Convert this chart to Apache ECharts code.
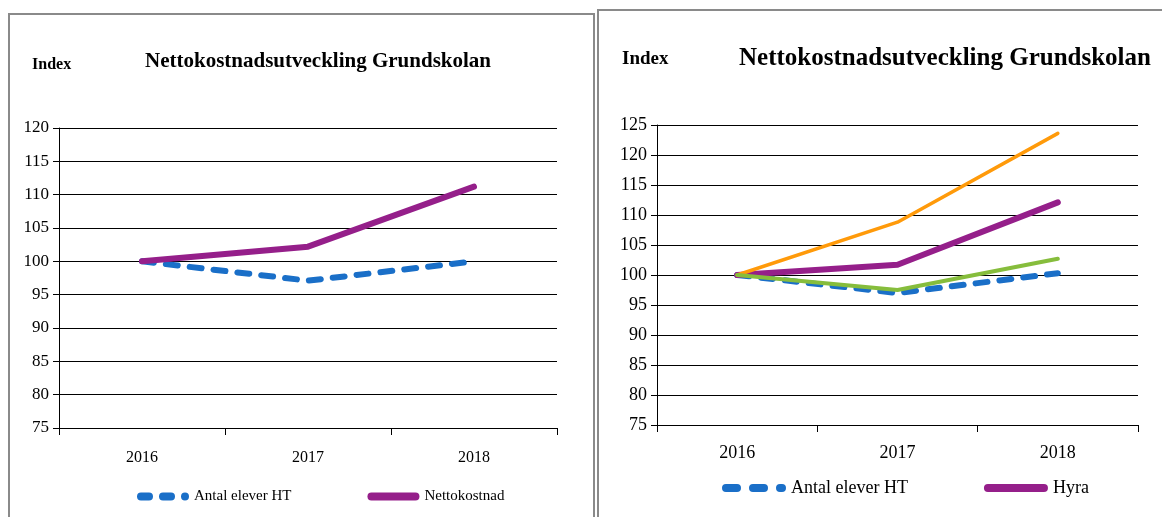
<!DOCTYPE html>
<html>
<head>
<meta charset="utf-8">
<script src="https://cdn.jsdelivr.net/npm/echarts@6/dist/echarts.min.js"></script>
<style>
  html, body { margin: 0; padding: 0; background: #fff; }
  #main { width: 1162px; height: 517px; }
</style>
</head>
<body>
<div id="main"></div>
<script>
// data
const years = ['2016', '2017', '2018']
const leftElever = [100, 97.1, 100]
const leftNetto = [100, 102.2, 111.2]
const rightElever = [100, 97.0, 100.3]
const rightHyra = [100, 101.7, 112.1]
const rightOrange = [100, 108.8, 123.6]
const rightGreen = [100, 97.5, 102.7]

const font = "'Liberation Serif', 'Times New Roman', serif"
const BLUE = '#1a6fc8'
const PURPLE = '#951f8a'
const ORANGE = '#ff9a0a'
const GREEN = '#86bd3c'

// legend icons: rounded bars (h = 8)
function pill (x0, x1) {
  return `M${x0 + 4} 0L${x1 - 4} 0A4 4 0 0 1 ${x1 - 4} 8L${x0 + 4} 8A4 4 0 0 1 ${x0 + 4} 0Z`
}
const dashIconL = 'path://' + pill(0, 16) + pill(22, 38) + pill(44, 52)
const dashIconR = 'path://' + pill(0, 19) + pill(27, 46) + pill(54, 64)
const solidIconL = 'path://' + pill(0, 52)
const solidIconR = 'path://' + pill(0, 64)

function xAxisOpt (gridIndex, fontSize, margin) {
  return {
    type: 'category',
    gridIndex,
    data: years,
    boundaryGap: true,
    axisLine: { show: true, lineStyle: { color: '#000', width: 1 } },
    axisTick: { show: true, length: 7, lineStyle: { color: '#000' } },
    axisLabel: { color: '#000', fontFamily: font, fontSize, margin },
    splitLine: { show: false }
  }
}
function yAxisOpt (gridIndex, max, fontSize) {
  return {
    type: 'value',
    gridIndex,
    min: 75,
    max,
    interval: 5,
    axisLine: { show: true, lineStyle: { color: '#000', width: 1 } },
    axisTick: { show: true, length: 6, lineStyle: { color: '#000' } },
    axisLabel: { color: '#000', fontFamily: font, fontSize, margin: 10 },
    splitLine: { show: true, lineStyle: { color: '#000', width: 1 } }
  }
}
function line (name, data, color, width, idx, dashed) {
  return {
    name,
    type: 'line',
    xAxisIndex: idx,
    yAxisIndex: idx,
    data,
    symbol: 'none',
    smooth: false,
    lineStyle: {
      color,
      width,
      type: dashed ? [12, 12] : 'solid',
      cap: 'round',
      join: 'round'
    },
    itemStyle: { color },
    emphasis: { disabled: true }
  }
}

const chart = echarts.init(document.getElementById('main'))
const option = {
  backgroundColor: '#fff',
  animation: false,
  title: [
    { text: 'Nettokostnadsutveckling Grundskolan', left: 313, top: 46, textAlign: 'center',
      textStyle: { fontFamily: font, fontWeight: 'bold', fontSize: 21, color: '#000' } },
    { text: 'Index', left: 27, top: 52,
      textStyle: { fontFamily: font, fontWeight: 'bold', fontSize: 16, color: '#000' } },
    { text: 'Nettokostnadsutveckling Grundskolan', left: 940, top: 41, textAlign: 'center',
      textStyle: { fontFamily: font, fontWeight: 'bold', fontSize: 25, color: '#000' } },
    { text: 'Index', left: 617, top: 45,
      textStyle: { fontFamily: font, fontWeight: 'bold', fontSize: 19, color: '#000' } }
  ],
  legend: [
    {
      left: 132, top: 484, itemWidth: 52, itemHeight: 8, itemGap: 76, itemTextGap: 2,
      data: [
        { name: 'Antal elever HT', icon: dashIconL },
        { name: 'Nettokostnad', icon: solidIconL }
      ],
      textStyle: { fontFamily: font, fontSize: 15, color: '#000' },
      selectedMode: false
    },
    {
      left: 717, top: 474, itemWidth: 64, itemHeight: 8, itemGap: 76, itemTextGap: 2,
      data: [
        { name: 'Antal elever HT', icon: dashIconR },
        { name: 'Hyra', icon: solidIconR }
      ],
      textStyle: { fontFamily: font, fontSize: 18, color: '#000' },
      selectedMode: false
    }
  ],
  grid: [
    { left: 59, top: 128, width: 498, height: 300 },
    { left: 657, top: 125, width: 481, height: 300 }
  ],
  xAxis: [xAxisOpt(0, 16, 22), xAxisOpt(1, 18, 19)],
  yAxis: [yAxisOpt(0, 120, 17), yAxisOpt(1, 125, 18)],
  series: [
    line('Antal elever HT', leftElever, BLUE, 6, 0, true),
    line('Nettokostnad', leftNetto, PURPLE, 6, 0, false),
    line('Antal elever HT', rightElever, BLUE, 6, 1, true),
    line('Hyra', rightHyra, PURPLE, 6, 1, false),
    line('Serie 3', rightOrange, ORANGE, 3.5, 1, false),
    line('Serie 4', rightGreen, GREEN, 4, 1, false)
  ],
  graphic: [
    { type: 'rect', shape: { x: 9, y: 14, width: 585, height: 520 },
      style: { fill: 'none', stroke: '#8a8a8a', lineWidth: 2 }, silent: true },
    { type: 'rect', shape: { x: 598, y: 10, width: 580, height: 520 },
      style: { fill: 'none', stroke: '#8a8a8a', lineWidth: 2 }, silent: true }
  ]
}
chart.setOption(option)
</script>
</body>
</html>
